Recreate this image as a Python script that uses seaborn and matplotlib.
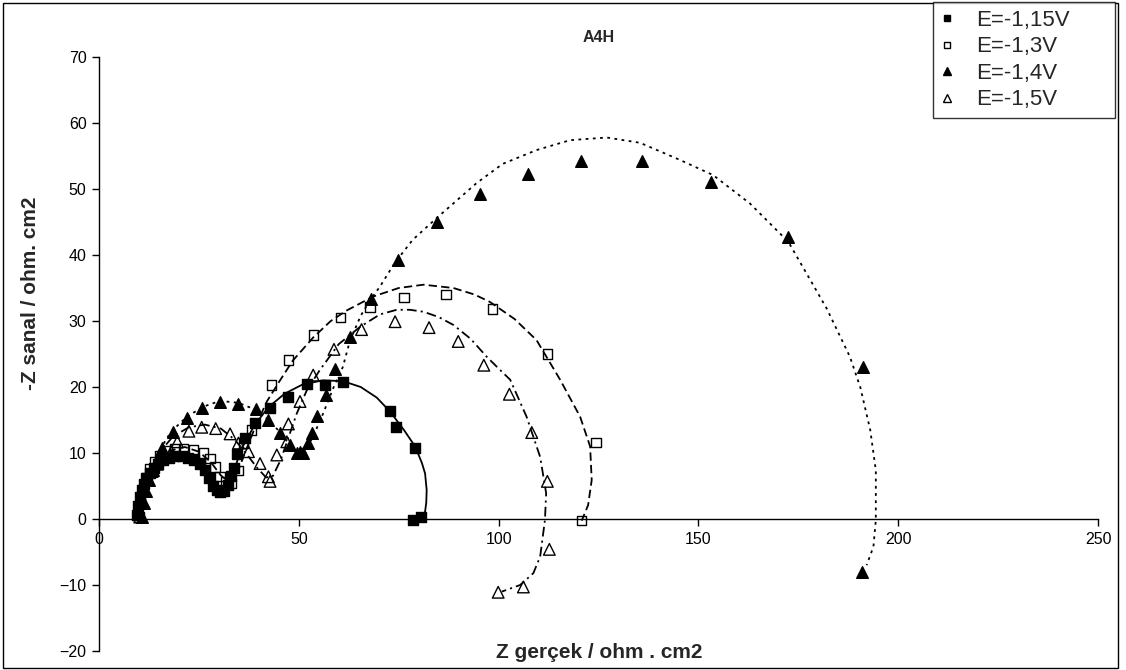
import matplotlib
matplotlib.use("Agg")
import matplotlib.pyplot as plt
from matplotlib.lines import Line2D
from matplotlib.patches import Rectangle
import seaborn as sns
import pandas as pd

# ---------------- data ----------------
labels = ["E=-1,15V", "E=-1,3V", "E=-1,4V", "E=-1,5V"]

e115_x = [9.6, 9.8, 10.2, 10.7, 11.3, 12.0, 12.8, 13.7, 14.8, 16.1, 17.5, 19.0, 20.7, 22.3, 23.8,
          25.3, 26.5, 27.6, 28.6, 29.5, 30.3, 31.2, 32.2, 33.1, 33.8, 34.5, 36.5, 39.0, 42.8, 47.4,
          52.0, 56.6, 61.0, 72.8, 74.2, 79.1, 78.7, 80.7]
e115_y = [0.6, 2.0, 3.4, 4.4, 5.3, 6.2, 7.0, 7.7, 8.3, 8.9, 9.3, 9.5, 9.5, 9.3, 8.9,
          8.3, 7.4, 6.2, 5.0, 4.4, 4.1, 4.3, 5.2, 6.5, 7.8, 9.8, 12.2, 14.5, 16.8, 18.5,
          20.5, 20.3, 20.7, 16.3, 14.0, 10.7, -0.15, 0.35]

e13_x = [10.0, 10.3, 10.9, 11.7, 12.7, 13.9, 15.3, 17.0, 19.0, 21.1, 23.6, 26.1, 27.8, 29.0, 30.3,
         31.8, 33.2, 34.9, 36.1, 38.2, 43.2, 47.4, 53.6, 60.5, 67.8, 76.3, 86.8, 98.5, 112.3, 124.4, 120.8]
e13_y = [0.3, 2.5, 4.5, 6.2, 7.6, 8.7, 9.6, 10.3, 10.7, 10.7, 10.5, 10.0, 9.2, 7.9, 6.4,
         5.6, 5.4, 7.4, 11.5, 13.5, 20.3, 24.1, 27.9, 30.5, 32.1, 33.6, 34.0, 31.8, 25.0, 11.6, -0.25]

e14_x = [10.8, 11.2, 11.8, 12.6, 13.6, 14.4, 15.7, 18.4, 21.9, 25.9, 30.4, 34.9, 39.2, 42.4, 45.3,
         47.8, 49.5, 50.3, 51.1, 52.4, 53.2, 54.6, 56.8, 59.1, 62.8, 68.0, 74.9, 84.5, 95.3, 107.3,
         120.5, 136.0, 153.2, 172.5, 191.3, 190.9]
e14_y = [0.3, 2.5, 4.3, 5.9, 7.4, 8.9, 10.7, 13.2, 15.3, 16.8, 17.8, 17.4, 16.6, 15.0, 13.0,
         11.2, 10.0, 10.2, 10.0, 11.5, 13.0, 15.6, 18.8, 22.8, 27.6, 33.4, 39.2, 45.0, 49.3, 52.2,
         54.2, 54.2, 51.1, 42.8, 23.1, -8.0]

e15_x = [10.2, 10.6, 11.3, 12.2, 13.3, 14.6, 16.2, 18.1, 19.6, 22.5, 25.7, 29.2, 32.8, 34.9, 37.4,
         40.3, 42.4, 42.8, 44.5, 47.0, 47.4, 50.3, 53.6, 58.8, 65.7, 74.1, 82.6, 89.9, 96.3, 102.7,
         108.3, 112.2, 112.7, 106.2, 99.9]
e15_y = [0.3, 2.5, 4.5, 6.0, 7.2, 8.3, 9.3, 10.2, 11.7, 13.3, 13.9, 13.7, 12.9, 11.5, 10.2,
         8.4, 6.4, 5.7, 9.7, 11.7, 14.4, 17.8, 21.8, 25.7, 28.7, 29.9, 29.0, 26.9, 23.3, 18.9,
         13.1, 5.7, -4.6, -10.3, -11.1]

# fitted curves
fit115_x = [9.6, 9.9, 11.0, 12.8, 15.0, 18.0, 21.0, 24.0, 26.5, 28.5, 30.3, 32.0, 33.8, 36.0, 39.0,
            42.5, 46.5, 51.0, 56.0, 61.0, 65.5, 69.5, 72.8, 76.3, 79.1, 80.8, 81.6, 82.0, 81.9, 81.6, 80.8]
fit115_y = [0.0, 2.5, 4.8, 6.8, 8.3, 9.3, 9.6, 9.1, 7.6, 5.6, 4.3, 5.0, 7.5, 11.0, 14.3,
            17.0, 19.0, 20.4, 21.0, 20.9, 20.0, 18.4, 16.3, 13.5, 11.0, 8.5, 6.9, 4.4, 2.5, 1.1, 0.3]

fit13_x = [10.0, 10.6, 12.3, 14.8, 18.0, 21.5, 25.0, 28.0, 30.5, 32.5, 34.5, 36.5, 39.0, 42.0, 45.3,
           48.5, 53.6, 58.0, 62.0, 68.6, 75.0, 81.2, 88.7, 94.0, 97.8, 104.0, 109.5, 115.4, 120.4,
           122.9, 123.3, 122.4, 120.8]
fit13_y = [0.0, 3.0, 6.3, 8.8, 10.4, 10.9, 10.2, 8.6, 6.6, 5.6, 6.8, 10.0, 13.8, 17.8, 21.0,
           24.0, 27.5, 30.0, 31.6, 33.7, 35.0, 35.5, 35.0, 34.0, 32.9, 30.3, 27.1, 21.1, 15.5,
           11.0, 5.9, 2.1, -0.25]

fit14_x = [10.5, 11.2, 12.8, 15.0, 18.0, 21.8, 26.0, 30.3, 34.9, 39.0, 42.5, 45.5, 48.0, 50.0, 51.8,
           53.6, 56.1, 58.6, 61.0, 62.8, 65.5, 68.0, 70.3, 74.0, 78.5, 84.5, 94.5, 101.0, 109.5, 117.9,
           127.1, 135.4, 145.4, 153.7, 162.9, 172.5, 182.1, 187.9, 190.5, 193.0, 194.4, 194.4, 193.8, 192.1]
fit14_y = [0.0, 3.5, 7.0, 10.3, 13.2, 15.4, 17.0, 17.9, 17.6, 16.6, 15.0, 13.0, 11.0, 10.0, 10.6,
           12.5, 16.0, 19.8, 23.0, 27.0, 30.8, 33.3, 35.2, 38.8, 42.3, 45.6, 50.9, 53.8, 55.9, 57.4,
           57.8, 57.0, 54.4, 52.1, 47.8, 42.0, 31.9, 24.6, 20.0, 13.5, 7.4, -0.15, -4.2, -7.0]

fit15_x = [10.2, 10.8, 12.5, 15.0, 18.5, 22.5, 26.5, 30.5, 34.0, 37.0, 39.5, 41.8, 43.5, 45.5, 47.5,
           49.5, 52.0, 55.3, 60.0, 65.3, 70.3, 74.5, 77.8, 81.2, 85.0, 88.7, 93.0, 97.0, 100.0, 102.9,
           107.0, 110.4, 111.9, 111.6, 110.4, 108.7, 105.4, 100.8]
fit15_y = [0.0, 3.5, 7.0, 10.0, 12.5, 13.9, 14.3, 13.7, 12.0, 9.8, 7.8, 6.3, 6.5, 9.0, 12.5,
           16.0, 19.5, 22.6, 26.5, 29.1, 31.0, 31.7, 31.7, 31.4, 30.6, 29.4, 27.3, 24.6, 22.8, 21.1,
           15.5, 9.4, 3.9, -0.15, -5.7, -8.2, -10.0, -11.0]

x_ticks = [0, 50, 100, 150, 200, 250]
y_ticks = [-20, -10, 0, 10, 20, 30, 40, 50, 60, 70]

# ---------------- styling ----------------
sns.set_style("white")
plt.rcParams["font.family"] = ["Liberation Sans", "DejaVu Sans"]
plt.rcParams["lines.scale_dashes"] = False

W, H = 1126, 670
fig = plt.figure(figsize=(W / 100, H / 100), dpi=100)
ax = fig.add_axes([99 / W, 1 - 651 / H, (1098 - 99) / W, (651 - 57) / H])

fits = [
    (fit115_x, fit115_y, "-"),
    (fit13_x, fit13_y, (0, (6, 3))),
    (fit14_x, fit14_y, (0, (2, 3.2))),
    (fit15_x, fit15_y, (0, (7, 3, 1.5, 3))),
]
for fx, fy, ls in fits:
    dfl = pd.DataFrame({"x": fx, "y": fy})
    sns.lineplot(data=dfl, x="x", y="y", sort=False, estimator=None, color="black",
                 linewidth=1.3, ax=ax, zorder=2)
    ax.lines[-1].set_linestyle(ls)

series = [
    (e115_x, e115_y, "s", True, 45),
    (e13_x, e13_y, "s", False, 45),
    (e14_x, e14_y, "^", True, 70),
    (e15_x, e15_y, "^", False, 70),
]
for sx, sy, mk, filled, size in series:
    dfs = pd.DataFrame({"x": sx, "y": sy})
    sns.scatterplot(data=dfs, x="x", y="y", marker=mk, s=size, color="black",
                    edgecolor="black", linewidth=1.0, ax=ax, zorder=3)
    if not filled:
        ax.collections[-1].set_facecolor("none")

ax.set_xlim(0, 250)
ax.set_ylim(-20, 70)
ax.set_xticks(x_ticks)
ax.set_yticks(y_ticks)
ax.set_xlabel("")
ax.set_ylabel("")
ax.spines["top"].set_visible(False)
ax.spines["right"].set_visible(False)
ax.spines["bottom"].set_position(("data", 0))
for sp in ("left", "bottom"):
    ax.spines[sp].set_color("black")
    ax.spines[sp].set_linewidth(1.0)
ax.tick_params(axis="both", direction="out", length=5, width=1, color="black",
               labelsize=11.5, labelcolor="black", pad=4)
ax.tick_params(axis="x", bottom=True)
ax.tick_params(axis="y", left=True)
ax.set_facecolor("white")
ax.grid(False)

# texts
fig.text(599 / W, 1 - 38 / H, "A4H", ha="center", va="center", fontsize=11.5, fontweight="bold")
fig.text(599 / W, 1 - 653 / H, "Z gerçek / ohm . cm2", ha="center", va="center",
         fontsize=15, fontweight="bold")
fig.text(31 / W, 1 - 293 / H, "-Z sanal / ohm. cm2", ha="center", va="center",
         rotation=90, fontsize=15, fontweight="bold")

# legend
handles = [
    Line2D([], [], linestyle="none", marker="s", markersize=5, markerfacecolor="black", markeredgecolor="black"),
    Line2D([], [], linestyle="none", marker="s", markersize=5, markerfacecolor="none", markeredgecolor="black"),
    Line2D([], [], linestyle="none", marker="^", markersize=6, markerfacecolor="black", markeredgecolor="black"),
    Line2D([], [], linestyle="none", marker="^", markersize=6, markerfacecolor="none", markeredgecolor="black"),
]
leg = fig.legend(handles, labels, loc="upper left",
                 bbox_to_anchor=(933 / W, 1 - 115 / H, 182 / W, 113 / H), mode="expand",
                 frameon=True, fancybox=False, edgecolor="black", fontsize=16,
                 handlelength=0.6, handletextpad=1.0, labelspacing=0.25, borderpad=0.35,
                 borderaxespad=0)
leg.get_frame().set_linewidth(1.0)

# outer chart border
fig.patches.append(Rectangle((3 / W, 2 / H), (1118 - 3) / W, (667 - 2) / H,
                             transform=fig.transFigure, fill=False, edgecolor="black",
                             linewidth=1.0, zorder=0))

fig.savefig("out.png", dpi=100, facecolor="white")
